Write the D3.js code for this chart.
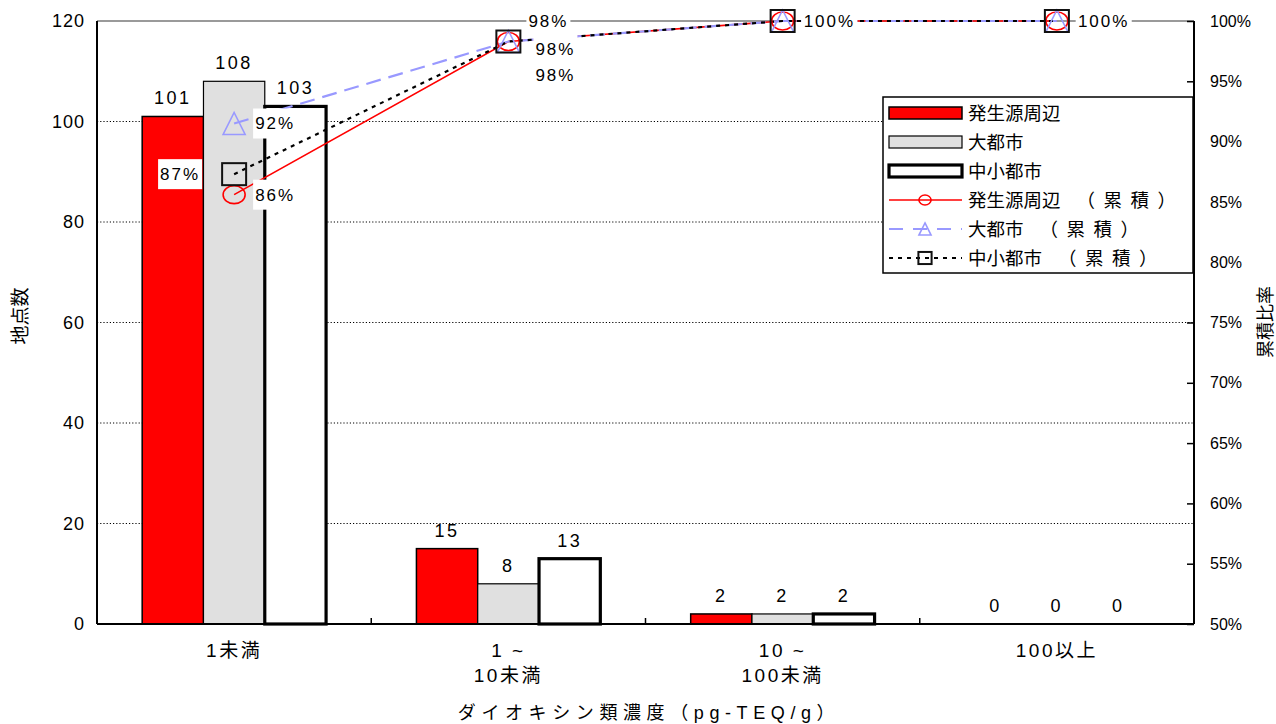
<!DOCTYPE html>
<html>
<head>
<meta charset="utf-8">
<script src="https://cdn.jsdelivr.net/npm/d3@7"></script>
<style>
  html, body { margin: 0; padding: 0; background: #fff; }
  svg { display: block; }
  text { font-family: "Liberation Sans", "Noto Sans CJK JP", sans-serif; fill: #000; }
</style>
</head>
<body>
<svg id="chart" width="1276" height="724"></svg>
<script>
// ---- data ----
const categories = ["1未満", "1～10未満", "10～100未満", "100以上"];
const categoryLines = [["1未満"], ["1 ~", "10未満"], ["10 ~", "100未満"], ["100以上"]];
const seriesNames = ["発生源周辺", "大都市", "中小都市"];
const countsSource = [101, 15, 2, 0];
const countsLarge = [108, 8, 2, 0];
const countsSmall = [103, 13, 2, 0];
const cumSource = [0.856, 0.983, 1.0, 1.0];
const cumLarge = [0.915, 0.983, 1.0, 1.0];
const cumSmall = [0.873, 0.983, 1.0, 1.0];
const countTicks = [0, 20, 40, 60, 80, 100, 120];
const ratioTicks = [0.5, 0.55, 0.6, 0.65, 0.7, 0.75, 0.8, 0.85, 0.9, 0.95, 1.0];
const xTitle = "ダイオキシン類濃度（pg-TEQ/g）";
const yTitle = "地点数";
const y2Title = "累積比率";

const counts = [countsSource, countsLarge, countsSmall];
const cums = [cumSource, cumLarge, cumSmall];

// ---- layout ----
const L = 97, R = 1194, T = 21, B = 624;
const svg = d3.select("#chart");

const x = d3.scaleBand().domain(categories).range([L, R]);
const xInner = d3.scaleBand().domain(seriesNames).range([0, x.bandwidth()]).paddingOuter(0.737);
const y = d3.scaleLinear().domain([0, 120]).range([B, T]);
const yR = d3.scaleLinear().domain([0.5, 1.0]).range([B, T]);
const cx = c => x(c) + x.bandwidth() / 2;

const barStyle = [
  { fill: "#ff0000", stroke: "#000", width: 1.5 },
  { fill: "#e0e0e0", stroke: "#000", width: 1.2 },
  { fill: "#ffffff", stroke: "#000", width: 3.2 }
];
const lineStyle = [
  { stroke: "#ff0000", width: 1.6, dash: null },
  { stroke: "#9999ff", width: 2.2, dash: "15,8" },
  { stroke: "#000000", width: 2.2, dash: "4,5" }
];

// gridlines
const grid = svg.append("g");
grid.selectAll("line.g").data(countTicks.filter(v => v > 0 && v < 120)).join("line")
  .attr("x1", L).attr("x2", R).attr("y1", d => y(d)).attr("y2", d => y(d))
  .attr("stroke", "#000").attr("stroke-width", 1).attr("stroke-dasharray", "1.2,2");
grid.append("line").attr("x1", L).attr("x2", R).attr("y1", y(120)).attr("y2", y(120))
  .attr("stroke", "#9a9a9a").attr("stroke-width", 2);

// bars with count labels
const bars = svg.append("g");
seriesNames.forEach((s, si) => {
  bars.selectAll(null).data(categories).join("rect")
    .attr("x", c => x(c) + xInner(s))
    .attr("width", xInner.bandwidth())
    .attr("y", (c, i) => y(counts[si][i]))
    .attr("height", (c, i) => y(0) - y(counts[si][i]))
    .attr("fill", barStyle[si].fill)
    .attr("stroke", barStyle[si].stroke)
    .attr("stroke-width", barStyle[si].width)
    .attr("display", (c, i) => counts[si][i] > 0 ? null : "none");
  bars.selectAll(null).data(categories).join("text")
    .attr("x", c => x(c) + xInner(s) + xInner.bandwidth() / 2)
    .attr("y", (c, i) => y(counts[si][i]) - 12)
    .attr("text-anchor", "middle")
    .attr("font-size", 18).attr("letter-spacing", 2.5)
    .text((c, i) => counts[si][i]);
});

// axis frame
svg.append("line").attr("x1", L).attr("x2", L).attr("y1", T).attr("y2", B).attr("stroke", "#000").attr("stroke-width", 2);
svg.append("line").attr("x1", R).attr("x2", R).attr("y1", T).attr("y2", B).attr("stroke", "#000").attr("stroke-width", 2);
svg.append("line").attr("x1", L).attr("x2", R).attr("y1", B).attr("y2", B).attr("stroke", "#000").attr("stroke-width", 2);

const axL = svg.append("g").attr("transform", `translate(${L},0)`)
  .call(d3.axisLeft(y).tickValues(countTicks).tickSize(0).tickPadding(12));
axL.select(".domain").remove();
axL.selectAll("text").attr("font-size", 18).attr("letter-spacing", 1).attr("font-family", "Liberation Sans");

const axR = svg.append("g").attr("transform", `translate(${R},0)`)
  .call(d3.axisRight(yR).tickValues(ratioTicks).tickSize(-7).tickPadding(16).tickFormat(d3.format(".0%")));
axR.select(".domain").remove();
axR.selectAll(".tick line").attr("stroke-width", 1.5);
axR.selectAll("text").attr("font-size", 16).attr("font-family", "Liberation Sans");

// category separators and labels
svg.selectAll(null).data(categories.slice(1)).join("line")
  .attr("x1", c => x(c)).attr("x2", c => x(c)).attr("y1", B).attr("y2", B - 6)
  .attr("stroke", "#000").attr("stroke-width", 1.5);
categories.forEach((c, i) => {
  const t = svg.append("text").attr("x", cx(c)).attr("y", 657).attr("text-anchor", "middle")
    .attr("font-size", 19).attr("letter-spacing", 2.5);
  categoryLines[i].forEach((ln, k) => t.append("tspan").attr("x", cx(c)).attr("dy", k ? 25 : 0).text(ln));
});

// axis titles
svg.append("text").attr("x", 649).attr("y", 719).attr("text-anchor", "middle")
  .attr("font-family", "Noto Sans CJK JP")
  .attr("font-size", 18).attr("letter-spacing", 5.6).text(xTitle);
svg.append("text").attr("transform", "translate(27,316) rotate(-90)").attr("text-anchor", "middle")
  .attr("font-size", 19).text(yTitle);
svg.append("text").attr("transform", "translate(1272,322) rotate(-90)").attr("text-anchor", "middle")
  .attr("font-size", 18).text(y2Title);

// cumulative ratio lines
const lines = svg.append("g");
cums.forEach((vals, si) => {
  const line = d3.line().x((v, i) => cx(categories[i])).y(v => yR(v));
  lines.append("path").datum(vals).attr("d", line)
    .attr("fill", "none").attr("stroke", lineStyle[si].stroke)
    .attr("stroke-width", lineStyle[si].width)
    .attr("stroke-dasharray", lineStyle[si].dash);
});

// markers: circle / triangle / square
function marker(g, si, px, py, s) {
  if (si === 0) {
    g.append("ellipse").attr("cx", px).attr("cy", py).attr("rx", 11 * s).attr("ry", 9 * s)
      .attr("fill", "none").attr("stroke", "#ff0000").attr("stroke-width", 1.6);
  } else if (si === 1) {
    const w = 11 * s, h = 11 * s;
    g.append("path").attr("d", `M${px},${py - h}L${px + w},${py + h}L${px - w},${py + h}Z`)
      .attr("fill", "none").attr("stroke", "#9999ff").attr("stroke-width", 1.6);
  } else {
    g.append("rect").attr("x", px - 12 * s).attr("y", py - 11 * s).attr("width", 24 * s).attr("height", 22 * s)
      .attr("fill", "none").attr("stroke", "#111").attr("stroke-width", 2);
  }
}
const marks = svg.append("g");
cums.forEach((vals, si) => vals.forEach((v, i) => marker(marks, si, cx(categories[i]), yR(v), 1)));

// percentage labels on white boxes
const labelOffsets = [
  [[21, 0, "start"], [27, 8, "start"], [21, 0, "start"], [21, 0, "start"]],
  [[21, 0, "start"], [20, -20, "start"], [21, 0, "start"], [21, 0, "start"]],
  [[-34, 0, "end"], [27, 34, "start"], [21, 0, "start"], [21, 0, "start"]]
];
const labels = svg.append("g");
[2, 0, 1].forEach(si => {
  cums[si].forEach((v, i) => {
    const [dx, dy, anchor] = labelOffsets[si][i];
    const px = cx(categories[i]) + dx, py = yR(v) + dy;
    const g = labels.append("g");
    const t = g.append("text").attr("x", px).attr("y", py).attr("dy", "0.35em")
      .attr("text-anchor", anchor).attr("font-size", 17).attr("letter-spacing", 2)
      .text(d3.format(".0%")(v));
    const bb = t.node().getBBox();
    g.insert("rect", "text").attr("x", bb.x - 2).attr("y", py - 15).attr("width", bb.width + 4).attr("height", 30)
      .attr("fill", "#fff");
  });
});

// legend
const lg = svg.append("g");
lg.append("rect").attr("x", 883).attr("y", 97).attr("width", 310).attr("height", 176)
  .attr("fill", "#fff").attr("stroke", "#000").attr("stroke-width", 1.5);
const rowY = i => 113 + 29 * i;
seriesNames.forEach((s, si) => {
  lg.append("rect").attr("x", 889).attr("y", rowY(si) - 6).attr("width", 73).attr("height", 12)
    .attr("fill", barStyle[si].fill).attr("stroke", "#000").attr("stroke-width", barStyle[si].width);
  lg.append("text").attr("x", 968).attr("y", rowY(si)).attr("dy", "0.36em").attr("font-size", 18.5)
    .attr("font-family", "Noto Sans CJK JP").text(s);
});
seriesNames.forEach((s, si) => {
  const ry = rowY(si + 3);
  lg.append("line").attr("x1", 889).attr("x2", 962).attr("y1", ry).attr("y2", ry)
    .attr("stroke", lineStyle[si].stroke).attr("stroke-width", lineStyle[si].width)
    .attr("stroke-dasharray", si === 1 ? "14,10" : lineStyle[si].dash);
  marker(lg, si, 925, ry, 0.55);
  const t = lg.append("text").attr("x", 968).attr("y", ry).attr("dy", "0.36em").attr("font-size", 18.5)
    .attr("font-family", "Noto Sans CJK JP");
  t.append("tspan").text(s);
  t.append("tspan").attr("dx", 16).attr("letter-spacing", 8.5).text("（累積）");
});
</script>
</body>
</html>
